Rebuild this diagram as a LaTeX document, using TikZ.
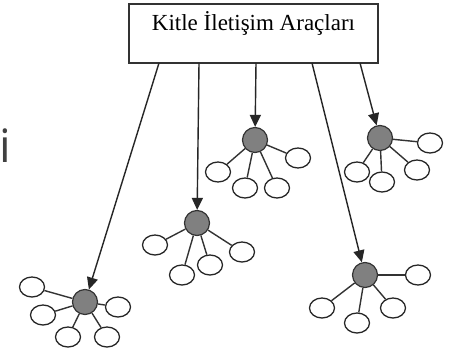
\documentclass[tikz,border=0pt]{standalone}
\usepackage{fontspec}
\setmainfont{Liberation Serif}
\newfontfamily\sidefont{Open Sans}
\usetikzlibrary{shapes.geometric,arrows.meta}
\begin{document}
\begin{tikzpicture}[x=1pt,y=-1pt,
  media/.style={draw=black!80,line width=1.5pt,minimum width=249pt,minimum height=59pt,inner sep=0pt},
  hub/.style={circle,draw=black!80,fill=black!50,line width=1.2pt,minimum size=25pt,inner sep=0pt},
  person/.style={ellipse,draw=black!85,line width=1.3pt,minimum width=25pt,minimum height=20pt,inner sep=0pt},
  tie/.style={draw=black!80,line width=1.4pt},
  flow/.style={draw=black!85,line width=1.4pt,-{Triangle[length=12pt,width=11pt]}}]
\useasboundingbox (0,0) rectangle (449,353);
\fill[white] (0,0) rectangle (449,353);

% mass-media box
\node[media] (box) at (253.5,33.5) {};
\node[anchor=base,font=\fontsize{23}{26}\selectfont,inner sep=0pt] (title) at (253.5,31) {Kitle İletişim Araçları};

\node[anchor=base,font=\sidefont\fontsize{46}{50}\selectfont,text=black!75,inner sep=0pt] (side) at (5,162) {i};

% opinion-leader hubs
\node[hub] (h1) at (85,302) {};
\node[hub] (h2) at (197,223) {};
\node[hub] (h3) at (255,140) {};
\node[hub] (h4) at (380,138) {};
\node[hub] (h5) at (365,275) {};

% start points on the box edge
\coordinate (s1) at (159,63);
\coordinate (s2) at (199,63);
\coordinate (s3) at (256,63);
\coordinate (s4) at (312,63);
\coordinate (s5) at (360,63);

\draw[flow] (s1) -- (h1);
\draw[flow] (s2) -- (h2);
\draw[flow] (s3) -- (h3);
\draw[flow] (s4) -- (h5);
\draw[flow] (s5) -- (h4);

% followers around each hub
\foreach \h/\lst in {
  h1/{32/287,43/315,68/337,107/337,118/307},
  h2/{155/245,182/275,210/265,242/252},
  h3/{218/172,245/188,277/188,298/158},
  h4/{357/172,382/182,417/170,430/143},
  h5/{322/308,357/323,393/308,418/275}} {
  \foreach \px/\py [count=\k] in \lst {
    \node[person] (\h p\k) at (\px,\py) {};
    \draw[tie] (\h) -- (\h p\k);
  }
}
\end{tikzpicture}
\end{document}
